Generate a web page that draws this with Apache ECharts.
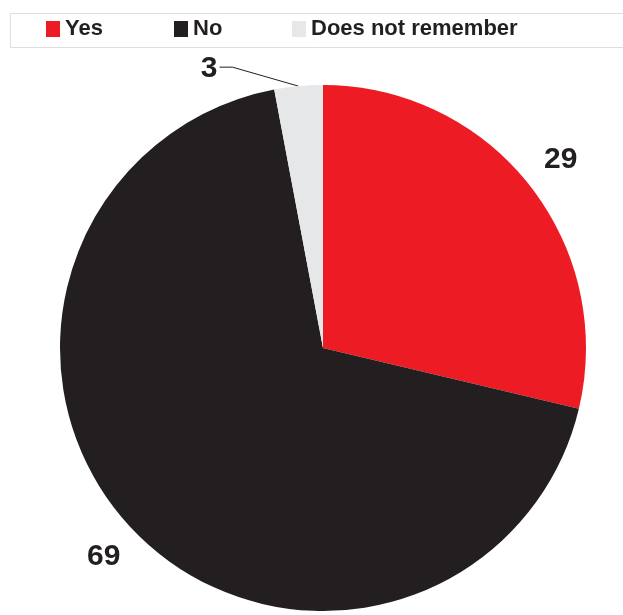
<!DOCTYPE html>
<html>
<head>
<meta charset="utf-8">
<script src="https://cdn.jsdelivr.net/npm/echarts@6/dist/echarts.min.js"></script>
<style>
  html, body { margin: 0; padding: 0; background: #ffffff; }
  #chart { width: 623px; height: 615px; }
</style>
</head>
<body>
<div id="chart"></div>
<script>
// Answer categories and their shares (%)
const categories = ['Yes', 'No', 'Does not remember'];
const values = [29, 69, 3];
const colors = ['#ed1c24', '#231f20', '#e6e7e8'];

const FONT = "'Liberation Sans Narrow', 'Arial Narrow', 'Liberation Sans', Arial, sans-serif";
const INK = '#231f20';
// left edge of each legend entry
const legendLefts = [46, 174, 292];

const chart = echarts.init(document.getElementById('chart'), null, { renderer: 'canvas' });

const pieData = categories.map((name, i) => ({
  name: name,
  value: values[i],
  itemStyle: { color: colors[i] },
  labelLine: { show: i === 2 }
}));

const legends = categories.map((name, i) => ({
  data: [name],
  left: legendLefts[i],
  top: 17,
  padding: 0,
  itemWidth: 14,
  itemHeight: 16,
  icon: 'rect',
  selectedMode: false,
  textStyle: {
    fontFamily: FONT,
    fontWeight: 'bold',
    fontSize: 22,
    lineHeight: 24,
    color: INK,
    padding: [0, 0, 0, 0]
  }
}));

chart.setOption({
  animation: false,
  backgroundColor: '#ffffff',
  // frame around the legend strip
  graphic: [{
    type: 'rect',
    left: 8,
    top: 11,
    shape: { width: 640, height: 34 },
    style: { fill: 'none', stroke: '#dedede', lineWidth: 1 },
    silent: true
  }],
  legend: legends,
  series: [{
    type: 'pie',
    center: [323, 348],
    radius: 263,
    startAngle: 90,
    clockwise: true,
    avoidLabelOverlap: false,
    emphasis: { disabled: true },
    data: pieData,
    label: {
      show: true,
      position: 'outside',
      formatter: '{c}',
      fontFamily: FONT,
      fontWeight: 'bold',
      fontSize: 30,
      color: INK,
      distanceToLabelLine: 0
    },
    labelLine: {
      length: 40,
      length2: 0,
      smooth: false,
      lineStyle: { color: INK, width: 1 }
    },
    labelLayout: function (params) {
      if (params.dataIndex === 2) {
        // small slice: label pulled up-left with an elbow leader line
        const p0 = params.labelLinePoints[0];
        return {
          x: p0[0] - 81,
          y: p0[1] - 17,
          align: 'right',
          verticalAlign: 'middle',
          labelLinePoints: [
            [p0[0], p0[1]],
            [p0[0] - 66, p0[1] - 19],
            [p0[0] - 79, p0[1] - 19]
          ]
        };
      }
      return { align: 'center', verticalAlign: 'middle' };
    }
  }]
});
</script>
</body>
</html>
